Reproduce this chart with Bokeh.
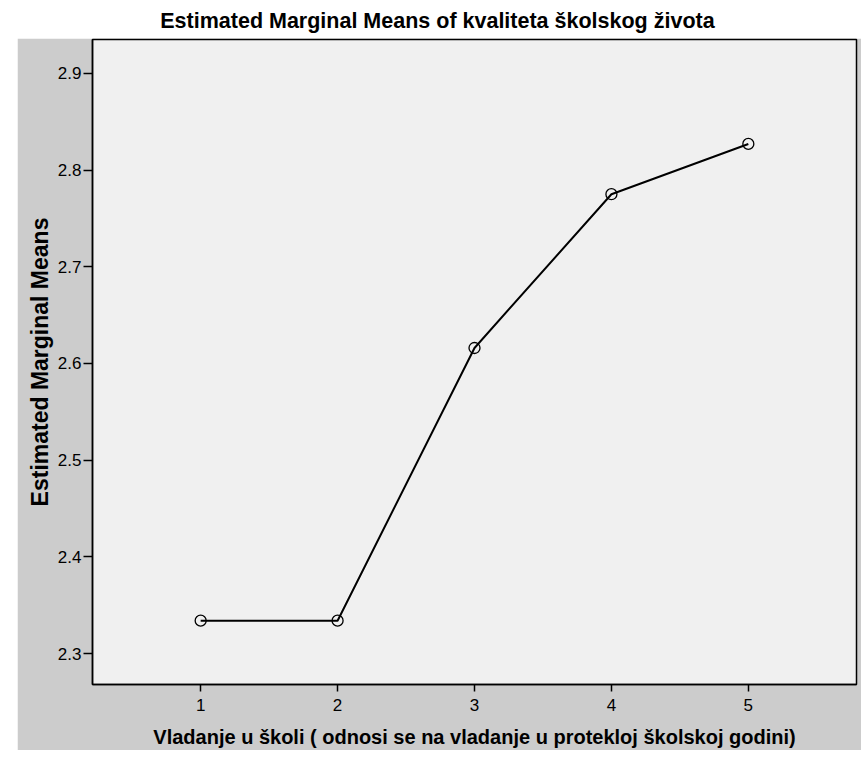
from bokeh.plotting import figure
from bokeh.models import Range1d, FixedTicker, Label, Spacer
from bokeh.layouts import column, row
from bokeh.embed import file_html
from bokeh.resources import INLINE

# Data
categories = [1, 2, 3, 4, 5]
means = [2.334, 2.334, 2.616, 2.775, 2.827]
y_ticks = [2.3, 2.4, 2.5, 2.6, 2.7, 2.8, 2.9]
title_text = "Estimated Marginal Means of kvaliteta školskog života"
x_label = "Vladanje u školi ( odnosi se na vladanje u protekloj školskoj godini)"
y_label = "Estimated Marginal Means"

FONT = "Liberation Sans"
GRAY = "#cccccc"

# Title strip
t = figure(width=861, height=38, output_backend="svg", toolbar_location=None,
           x_range=Range1d(0, 1), y_range=Range1d(0, 1),
           min_border=0, outline_line_color=None,
           background_fill_color="white", border_fill_color="white")
t.axis.visible = False
t.grid.visible = False
t.add_layout(Label(x=0.5075, y=0.45, text=title_text, text_align="center",
                   text_baseline="middle", text_font=FONT, text_font_size="21.5px",
                   text_font_style="bold", text_color="black"))

# Main plot
p = figure(width=844, height=712, output_backend="svg", toolbar_location=None,
           x_range=Range1d(0.21, 5.79), y_range=Range1d(2.268, 2.935),
           min_border_left=75, min_border_right=5, min_border_top=1, min_border_bottom=66,
           background_fill_color="#f0f0f0", border_fill_color=GRAY,
           outline_line_color="black", outline_line_width=1.5)
p.grid.visible = False

p.line(categories, means, line_color="black", line_width=2)
p.scatter(categories, means, marker="circle", size=11, fill_color=None,
          line_color="black", line_width=1.3)

p.xaxis.ticker = FixedTicker(ticks=categories)
p.yaxis.ticker = FixedTicker(ticks=y_ticks)
p.xaxis.axis_label = x_label
p.yaxis.axis_label = y_label

for ax in (p.xaxis, p.yaxis):
    ax.axis_line_color = "black"
    ax.axis_line_width = 1.5
    ax.major_tick_line_color = "black"
    ax.major_tick_line_width = 1.5
    ax.major_tick_in = 0
    ax.minor_tick_line_color = None
    ax.major_label_text_font = FONT
    ax.major_label_text_font_size = "17px"
    ax.major_label_text_color = "black"
    ax.axis_label_text_font = FONT
    ax.axis_label_text_font_style = "bold"
    ax.axis_label_text_color = "black"

p.xaxis.axis_label_text_font_size = "20px"
p.yaxis.axis_label_text_font_size = "23px"
p.xaxis.major_tick_out = 7
p.yaxis.major_tick_out = 9
p.xaxis.major_label_standoff = 7
p.yaxis.major_label_standoff = 2
p.xaxis.axis_label_standoff = 12
p.yaxis.axis_label_standoff = 2

layout = column(t, row(Spacer(width=17, height=712), p))

open("out.html", "w").write(file_html(layout, INLINE))
